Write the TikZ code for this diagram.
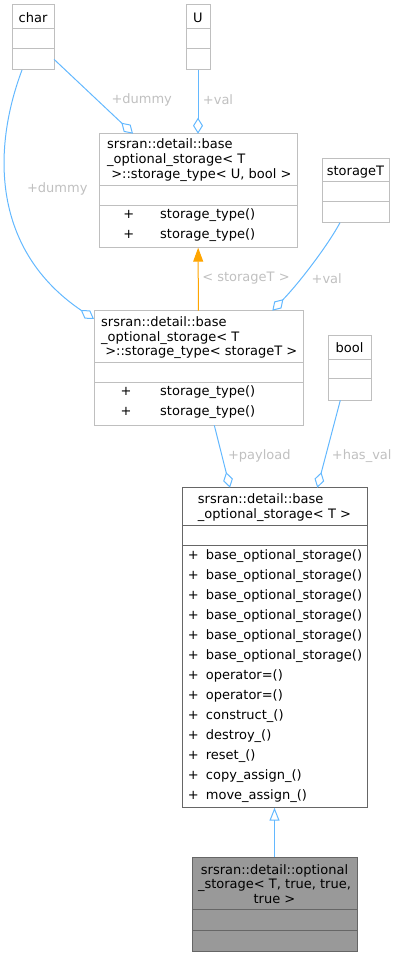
\documentclass[tikz,border=0pt]{standalone}
\usepackage{fontspec}
\setmainfont{DejaVu Sans}
\usetikzlibrary{arrows.meta}
\definecolor{edgeblue}{HTML}{63B8FF}
\definecolor{edgeorange}{HTML}{FFA500}
\definecolor{labelgrey}{HTML}{C0C0C0}
\definecolor{boxgrey}{HTML}{BFBFBF}
\definecolor{darkgrey}{HTML}{666666}
\definecolor{maingrey}{HTML}{999999}
\tikzstyle{classbox}=[draw=boxgrey,line width=1pt,inner sep=0pt,outer sep=0pt]
\tikzstyle{txt}=[inner sep=0pt,anchor=base west,font=\fontsize{13}{14.65}\selectfont]
\tikzstyle{lbl}=[inner sep=0pt,text=labelgrey,font=\fontsize{13}{14.65}\selectfont]
\tikzstyle{member}=[draw=edgeblue,line width=1pt,-{Diamond[open,length=16pt,width=10pt]}]
\tikzstyle{templ}=[draw=edgeorange,line width=1pt,-{Triangle[length=14pt,width=10pt]}]
\tikzstyle{inherit}=[draw=edgeblue,line width=1pt,-{Triangle[open,length=13pt,width=10pt]}]

\begin{document}
\begin{tikzpicture}[x=1pt,y=-1pt]
    \useasboundingbox (0,0) rectangle (398,957);
    % First we draw the class boxes with their three compartments
    \foreach \name/\xa/\ya/\xb/\yb/\sa/\sb in {char/12/5/54/70/29/49, U/186/5/210/70/29/49,
        storageU/99/133.7/297/247.7/185.7/205.7, storageT/322/158.3/389/222.7/181.7/201.7,
        storageS/94/310.7/303/425.3/362.3/382.7, bool/328/335/371/400.3/359.3/378.7}
    {
        \node[classbox,minimum width={(\xb-\xa)*1pt},minimum height={(\yb-\ya)*1pt}] (\name) at ({(\xa+\xb)/2},{(\ya+\yb)/2}) {};
        \draw[boxgrey,line width=1pt] (\xa,\sa) -- (\xb,\sa) (\xa,\sb) -- (\xb,\sb);
    }
    \node[classbox,draw=darkgrey,minimum width=185pt,minimum height=320pt] (base) at (274.5,647.7) {};
    \draw[darkgrey,line width=1pt] (182,525) -- (367,525) (182,545.3) -- (367,545.3);
    \node[classbox,draw=darkgrey,fill=maingrey,minimum width=165pt,minimum height=94.4pt] (optional) at (274.5,904.5) {};
    \draw[darkgrey,line width=1pt] (192,909) -- (357,909) (192,930) -- (357,930);

    % Class names
    \foreach \name/\ttl/\yb in {char/char/22.3, U/U/22.3, storageT/storageT/175.3, bool/bool/352.5}
        \node[txt,anchor=base] (\name-title) at (\name.center |- 0,\yb) {\ttl};
    \foreach \ln [count=\i] in {srsran::detail::base, \_optional\_storage< T, {\mbox{} >::storage\_type< U, bool >}}
        \node[txt] (storageU-t\i) at (107,{149+14.65*(\i-1)}) {\ln};
    \foreach \ln [count=\i] in {srsran::detail::base, \_optional\_storage< T, {\mbox{} >::storage\_type< storageT >}}
        \node[txt] (storageS-t\i) at (101,{326.6+14.65*(\i-1)}) {\ln};
    \foreach \ln [count=\i] in {srsran::detail::base, \_optional\_storage< T >}
        \node[txt] (base-t\i) at (197.7,{503.6+14.65*(\i-1)}) {\ln};
    \foreach \ln [count=\i] in {srsran::detail::optional, {\_storage< T, true, true,}, true >}
        \node[txt,anchor=base] (optional-t\i) at (274.5,{874.3+14.65*(\i-1)}) {\ln};

    % Member functions
    \foreach \i in {1,2} {
        \node[txt,anchor=base] (storageU-p\i) at (128.7,{198.7+20*\i}) {+};
        \node[txt] (storageU-m\i) at (160,{198.7+20*\i}) {storage\_type()};
        \node[txt,anchor=base] (storageS-p\i) at (126,{375+20*\i}) {+};
        \node[txt] (storageS-m\i) at (160,{375+20*\i}) {storage\_type()};
    }
    \foreach \m [count=\i] in {base\_optional\_storage(), base\_optional\_storage(),
        base\_optional\_storage(), base\_optional\_storage(), base\_optional\_storage(),
        base\_optional\_storage(), operator=(), operator=(), construct\_(), destroy\_(),
        reset\_(), copy\_assign\_(), move\_assign\_()}
    {
        \node[txt,anchor=base] (base-p\i) at (193.3,{539+20*\i}) {+};
        \node[txt] (base-m\i) at (205.7,{539+20*\i}) {\m};
    }

    % Connect the classes with edges
    \draw[member] ([yshift=10.7pt]char.south east) -- ([xshift=-65pt]storageU.north);
    \draw[member] (U) -- (storageU);
    \draw[member] ([xshift=10pt]char.south west) .. controls (-8,150) and (-8,250) .. ([yshift=-8.3pt]storageS.north west);
    \draw[templ] (storageS) -- (storageU);
    \draw[member] ([xshift=-15.5pt]storageT.south) .. controls (328,245) and (300,282) .. ([xshift=-30.7pt]storageS.north east);
    \draw[member] ([xshift=15.8pt]storageS.south) -- ([xshift=-44.5pt]base.north);
    \draw[member] ([xshift=-9.2pt]bool.south) -- ([xshift=42.8pt]base.north);
    \draw[inherit] (optional) -- (base);

    % Edge labels
    \foreach \pos/\name/\ttl in {{(141.7,100)/dummyA/+dummy}, {(218,100)/valA/+val}, {(57.3,189.3)/dummyB/+dummy},
        {(246,278.3)/tmpl/< storageT >}, {(326.7,278.3)/valB/+val}, {(259.3,455.7)/payload/+payload},
        {(361.7,455.7)/hasval/+has\_val}}
        \node[lbl] (\name) at \pos {\ttl};
\end{tikzpicture}
\end{document}
